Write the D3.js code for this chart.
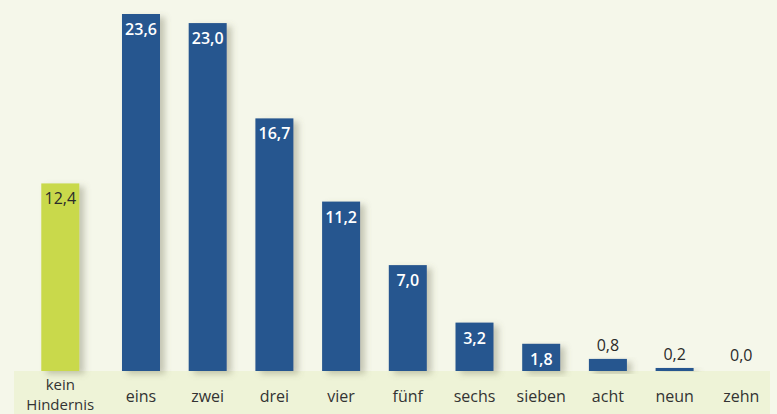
<!DOCTYPE html>
<html>
<head>
<meta charset="utf-8">
<script src="https://cdn.jsdelivr.net/npm/d3@7"></script>
<style>
  body { margin: 0; background: #f5f7ea; }
  svg { display: block; font-family: "Open Sans", "DejaVu Sans", sans-serif; }
</style>
</head>
<body>
<div id="chart"></div>
<script>
// Values from the chart
var categories = ["kein Hindernis", "eins", "zwei", "drei", "vier", "fünf", "sechs", "sieben", "acht", "neun", "zehn"];
var values = [12.4, 23.6, 23.0, 16.7, 11.2, 7.0, 3.2, 1.8, 0.8, 0.2, 0.0];
var highlight = ["kein Hindernis"];

var width = 777, height = 414;
var baseline = 371;

var svg = d3.select("#chart").append("svg")
    .attr("width", width)
    .attr("height", height);

svg.append("rect")
    .attr("width", width).attr("height", height)
    .attr("fill", "#f5f7ea");

// soft shadow to the right of the bars
var defs = svg.append("defs");
var f = defs.append("filter").attr("id", "shadow")
    .attr("x", "-20%").attr("y", "-10%").attr("width", "160%").attr("height", "130%");
f.append("feDropShadow")
    .attr("dx", 5).attr("dy", 3)
    .attr("stdDeviation", 3)
    .attr("flood-color", "#6b6b50")
    .attr("flood-opacity", 0.35);

// axis band
svg.append("rect")
    .attr("x", 14).attr("y", baseline)
    .attr("width", 756).attr("height", height - baseline)
    .attr("fill", "#eef3d7");

var x = d3.scaleBand()
    .domain(categories)
    .range([26.6, 789])
    .padding(0.43);

// the first bar is set a bit apart from the others
var groupGap = 14;
function xPos(d) {
    return x(d) - (d == categories[0] ? groupGap : 0);
}

var y = d3.scaleLinear()
    .domain([0, 23.6])
    .range([baseline, 14]);

var data = categories.map(function (c, i) { return { cat: c, value: values[i] }; });

svg.append("g").selectAll("rect")
    .data(data)
    .enter().append("rect")
    .attr("x", function (d) { return xPos(d.cat); })
    .attr("y", function (d) { return y(d.value); })
    .attr("width", x.bandwidth())
    .attr("height", function (d) { return baseline - y(d.value); })
    .attr("fill", function (d) { return highlight.indexOf(d.cat) >= 0 ? "#c9d94b" : "#27578f"; })
    .attr("filter", function (d) { return d.value > 0 ? "url(#shadow)" : null; });

function fmt(v) { return v.toFixed(1).replace(".", ","); }

svg.append("g").selectAll("text")
    .data(data)
    .enter().append("text")
    .attr("x", function (d) { return xPos(d.cat) + x.bandwidth() / 2; })
    .attr("y", function (d) {
        var inside = d.value >= 1.5;
        return inside ? y(d.value) + 21 : Math.min(y(d.value) - 8, 361);
    })
    .attr("text-anchor", "middle")
    .attr("font-size", 16)
    .attr("font-weight", function (d) { return highlight.indexOf(d.cat) >= 0 || d.value < 1.5 ? 400 : 600; })
    .attr("fill", function (d) {
        if (highlight.indexOf(d.cat) >= 0 || d.value < 1.5) return "#2b2b2b";
        return "#ffffff";
    })
    .text(function (d) { return fmt(d.value); });

// category labels
var labels = svg.append("g").selectAll("text")
    .data(categories)
    .enter().append("text")
    .attr("text-anchor", "middle")
    .attr("font-size", function (d) { return d.indexOf(" ") >= 0 ? 15 : 16; })
    .attr("fill", "#333333");

labels.each(function (d) {
    var words = d.split(" ");
    var cx = xPos(d) + x.bandwidth() / 2;
    var t = d3.select(this);
    var startY = words.length > 1 ? 390 : 402;
    words.forEach(function (w, i) {
        t.append("tspan")
            .attr("x", cx)
            .attr("y", startY + i * 20)
            .text(w);
    });
});
</script>
</body>
</html>
